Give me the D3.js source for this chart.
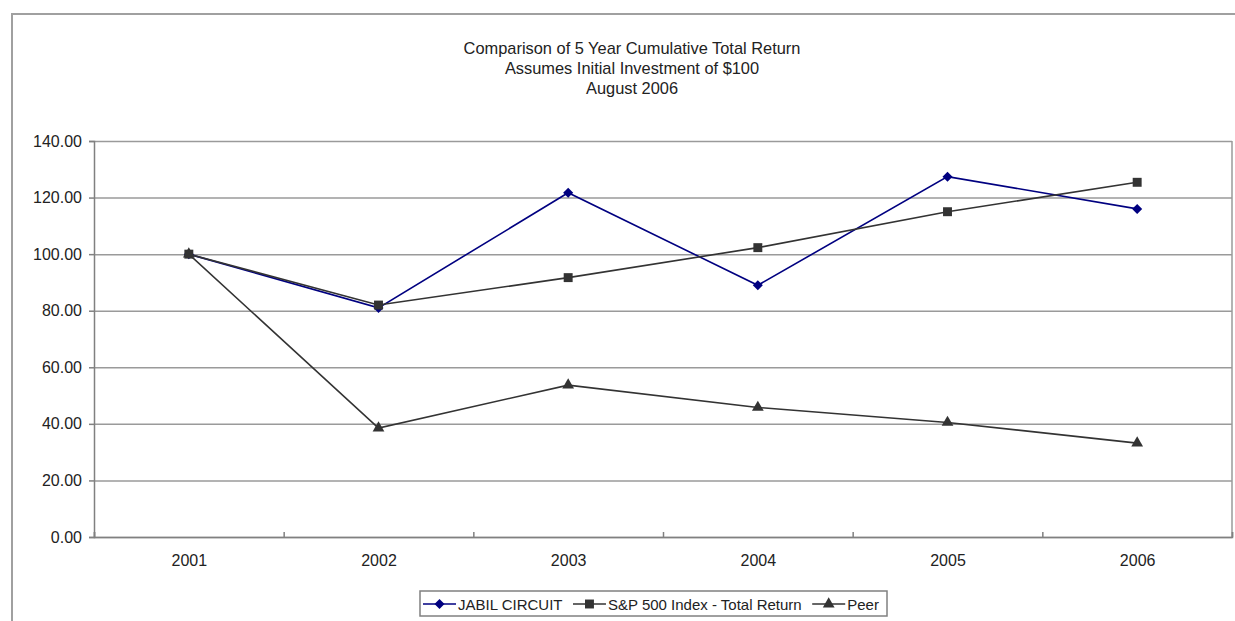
<!DOCTYPE html>
<html>
<head>
<meta charset="utf-8">
<script src="https://cdn.jsdelivr.net/npm/d3@7"></script>
<style>
  body { margin: 0; background: #fff; }
  svg { font-family: "Liberation Sans", Arial, sans-serif; }
</style>
</head>
<body>
<svg width="1235" height="621"></svg>
<script>
var years = ["2001", "2002", "2003", "2004", "2005", "2006"];
var jabil = [100, 81, 121.7, 89, 127.4, 116];
var sp500 = [100, 82, 91.7, 102.3, 115, 125.4];
var peer = [100, 38.5, 53.7, 45.8, 40.5, 33.2];
var yTicks = [0, 20, 40, 60, 80, 100, 120, 140];
var titleLines = ["Comparison of 5 Year Cumulative Total Return", "Assumes Initial Investment of $100", "August 2006"];

var series = [
  {name: "JABIL CIRCUIT", values: jabil, color: "#000080", marker: "diamond"},
  {name: "S&P 500 Index - Total Return", values: sp500, color: "#333333", marker: "square"},
  {name: "Peer", values: peer, color: "#333333", marker: "triangle"}
];

var svg = d3.select("svg");
var plotLeft = 94, plotRight = 1232, plotTop = 141, plotBottom = 537;

// outer chart frame
svg.append("path")
  .attr("d", "M12,640 L12,14 L1240,14")
  .attr("fill", "none")
  .attr("stroke", "#a0a0a0")
  .attr("stroke-width", 2);

svg.append("g").selectAll("text")
  .data(titleLines)
  .enter().append("text")
  .attr("x", 632)
  .attr("y", function(d, i) { return 54 + i * 20; })
  .attr("text-anchor", "middle")
  .attr("font-size", 16.4)
  .attr("fill", "#222")
  .text(function(d) { return d; });

var x = d3.scalePoint().domain(years).range([plotLeft, plotRight]).padding(0.5);
var xEdge = d3.scaleLinear().domain([0, years.length]).range([plotLeft, plotRight]);
var y = d3.scaleLinear().domain([0, 140]).range([plotBottom, plotTop]);

// gridlines
svg.append("g")
  .attr("transform", "translate(" + plotLeft + ",0)")
  .call(d3.axisLeft(y).tickValues(yTicks).tickSize(-(plotRight - plotLeft)).tickFormat(""))
  .call(function(g) {
    g.select(".domain").remove();
    g.selectAll("line").attr("stroke", "#9a9a9a").attr("stroke-width", 1.5);
  });

// right border of plot area
svg.append("line")
  .attr("x1", plotRight).attr("x2", plotRight)
  .attr("y1", plotTop).attr("y2", plotBottom)
  .attr("stroke", "#9a9a9a").attr("stroke-width", 1.5);

// y axis
svg.append("g")
  .attr("transform", "translate(" + plotLeft + ",0)")
  .call(d3.axisLeft(y).tickValues(yTicks).tickSize(5).tickPadding(7).tickFormat(d3.format(".2f")))
  .call(function(g) {
    g.select(".domain").attr("stroke", "#808080").attr("stroke-width", 1.5);
    g.selectAll("line").attr("stroke", "#808080").attr("stroke-width", 1.5);
    g.selectAll("text").attr("font-size", 16).attr("fill", "#222")
      .attr("font-family", "Liberation Sans, Arial, sans-serif");
  });

// x axis edge ticks (inward)
svg.append("g")
  .attr("transform", "translate(0," + plotBottom + ")")
  .call(d3.axisBottom(xEdge).ticks(years.length).tickSize(-5).tickFormat(""))
  .call(function(g) {
    g.select(".domain").attr("stroke", "#808080").attr("stroke-width", 1.5);
    g.selectAll("line").attr("stroke", "#808080").attr("stroke-width", 1.5);
  });

// x axis labels
svg.append("g")
  .attr("transform", "translate(0," + plotBottom + ")")
  .call(d3.axisBottom(x).tickSize(0).tickPadding(18))
  .call(function(g) {
    g.select(".domain").remove();
    g.selectAll("text").attr("font-size", 16).attr("fill", "#222")
      .attr("font-family", "Liberation Sans, Arial, sans-serif");
  });

var symbols = {
  diamond: d3.symbol().type(d3.symbolDiamond2).size(64),
  square: d3.symbol().type(d3.symbolSquare).size(80),
  triangle: d3.symbol().type(d3.symbolTriangle).size(60)
};

var line = d3.line()
  .x(function(d, i) { return x(years[i]); })
  .y(function(d) { return y(d); });

// later series sit on top, as in the spreadsheet chart
series.forEach(function(s) {
  svg.append("path")
    .datum(s.values)
    .attr("d", line)
    .attr("fill", "none")
    .attr("stroke", s.color)
    .attr("stroke-width", 1.6);
});

series.forEach(function(s) {
  svg.append("g").selectAll("path")
    .data(s.values)
    .enter().append("path")
    .attr("d", symbols[s.marker])
    .attr("transform", function(d, i) { return "translate(" + x(years[i]) + "," + y(d) + ")"; })
    .attr("fill", s.color);
});

// legend
var legend = svg.append("g");
legend.append("rect")
  .attr("x", 420).attr("y", 591)
  .attr("width", 467).attr("height", 25)
  .attr("fill", "#fff")
  .attr("stroke", "#808080").attr("stroke-width", 1.5);

var lx = 423;
series.forEach(function(s) {
  var g = legend.append("g").attr("transform", "translate(" + lx + ",604)");
  g.append("line").attr("x1", 0).attr("x2", 33).attr("stroke", s.color).attr("stroke-width", 1.6);
  g.append("path").attr("d", symbols[s.marker]).attr("transform", "translate(16.5,0)").attr("fill", s.color);
  var t = g.append("text").attr("x", 35).attr("y", 5.5)
    .attr("font-size", 15).attr("fill", "#222")
    .text(s.name);
  lx += 35 + t.node().getComputedTextLength() + 10.5;
});
</script>
</body>
</html>
